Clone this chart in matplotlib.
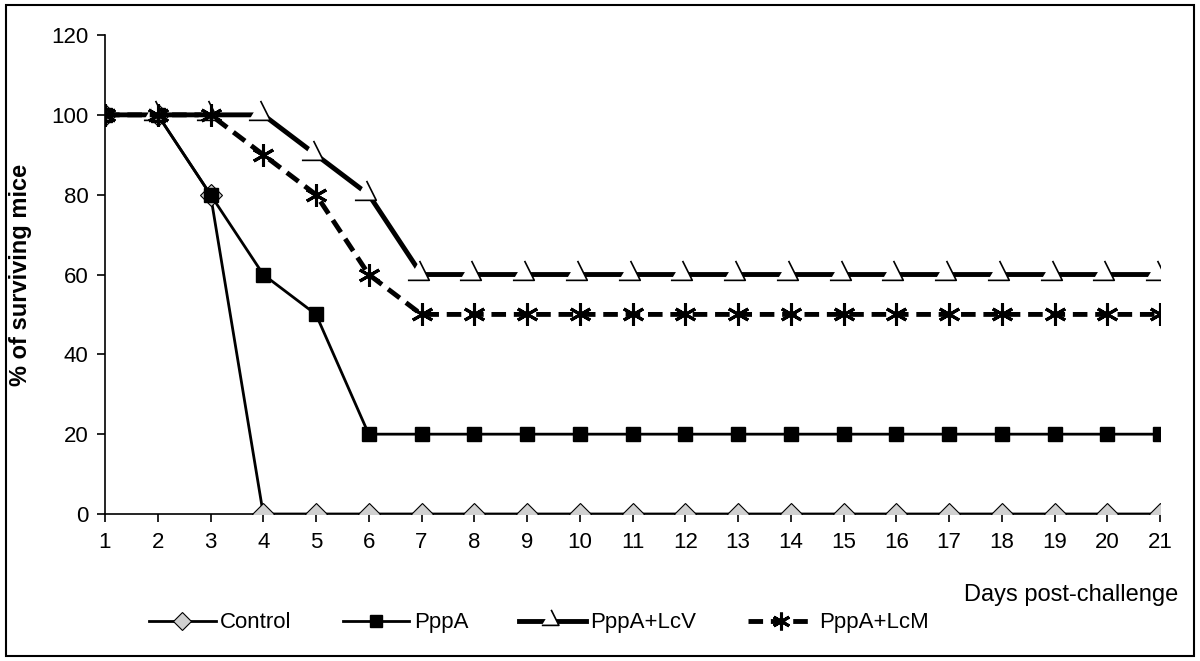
import numpy as np
import matplotlib.pyplot as plt
from matplotlib.path import Path
from matplotlib.patches import Rectangle

plt.rcParams['font.family'] = ['Liberation Sans', 'DejaVu Sans']

days = list(range(1, 22))
control = [100, 100, 80] + [0] * 18
pppa = [100, 100, 80, 60, 50] + [20] * 16
pppa_lcv = [100, 100, 100, 100, 90, 80] + [60] * 15
pppa_lcm = [100, 100, 100, 90, 80, 60] + [50] * 15

# open path: stroke draws two edges, fill still covers the triangle
lcv_marker = Path([(-0.15, 0.75), (0.35, -0.25), (-0.75, -0.25)],
                  [Path.MOVETO, Path.LINETO, Path.LINETO])

fig = plt.figure(figsize=(12, 6.61), dpi=100)
ax = fig.add_axes([0.0875, 0.2224, 0.8792, 0.7246])

ax.plot(days, control, color='black', lw=2, marker='D', ms=11,
        mfc='#d0d0d0', mec='black', mew=0.8, label='Control', zorder=3)
ax.plot(days, pppa, color='black', lw=2, marker='s', ms=10,
        mfc='black', mec='black', label='PppA', zorder=4)
ax.plot(days, pppa_lcv, color='black', lw=3.5, marker=lcv_marker, ms=21,
        mfc='white', mec='black', mew=1.2, label='PppA+LcV', zorder=5)
ax.plot(days, pppa_lcm, color='black', lw=3.5, ls=(0, (3, 1.6)),
        marker=(6, 2, 0), ms=16, mec='black', mew=2.2,
        label='PppA+LcM', zorder=6)

ax.set_xlim(1, 21)
ax.set_ylim(0, 120)
ax.set_xticks(days)
ax.set_yticks(range(0, 121, 20))
ax.tick_params(labelsize=16, length=6, width=1.2, direction='out')
ax.tick_params(axis='x', pad=7)
ax.tick_params(axis='y', pad=6)
for s in ['top', 'right']:
    ax.spines[s].set_visible(False)
for s in ['left', 'bottom']:
    ax.spines[s].set_linewidth(1.2)
ax.spines['bottom'].set_zorder(2)

ax.set_ylabel('% of surviving mice', fontsize=17, fontweight='bold', labelpad=14)
fig.text(0.982, 0.1, 'Days post-challenge', fontsize=17, ha='right', va='center')

fig.legend(loc='center', bbox_to_anchor=(0.449, 0.0575), ncol=4, frameon=False,
           fontsize=16, handlelength=3.0, columnspacing=2.3, handletextpad=0.2,
           markerscale=0.8)

fig.patches.append(Rectangle((0.005, 0.008), 0.99, 0.984, transform=fig.transFigure,
                             fill=False, ec='black', lw=1.5))

fig.savefig('out.png', dpi=100)
